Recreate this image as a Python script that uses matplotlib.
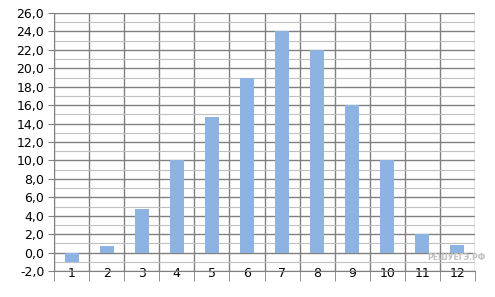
import numpy as np
import matplotlib.pyplot as plt
from matplotlib.ticker import MultipleLocator, FuncFormatter

months = list(range(1, 13))
values = [-1.0, 0.7, 4.7, 10.0, 14.7, 19.0, 24.0, 22.0, 16.0, 10.0, 2.0, 0.8]

fig = plt.figure(figsize=(4.95, 2.97), dpi=100)
ax = fig.add_axes([54 / 495, 1 - 271 / 297, (475 - 54) / 495, (271 - 13) / 297])

x = np.arange(len(months))
ax.bar(x, values, width=0.4, color="#8db3e2", zorder=3)

ax.set_xlim(-0.5, len(months) - 0.5)
ax.set_ylim(-2, 26)

# vertical grid between categories
ax.set_xticks(x)
ax.set_xticklabels([str(m) for m in months])
ax.set_xticks(np.arange(-0.5, len(months)), minor=True)
ax.tick_params(axis="x", which="major", length=0, labelsize=9, pad=-3)
ax.tick_params(axis="x", which="minor", length=7, color="#808080")
ax.grid(True, axis="x", which="minor", color="#808080", linewidth=1, zorder=1)

ax.yaxis.set_major_locator(MultipleLocator(2))
ax.yaxis.set_minor_locator(MultipleLocator(1))
ax.yaxis.set_major_formatter(FuncFormatter(lambda v, p: f"{v:.1f}".replace(".", ",")))
ax.tick_params(axis="y", which="major", length=4, color="#808080", labelsize=9, pad=3)
ax.tick_params(axis="y", which="minor", length=0)
ax.grid(True, axis="y", which="major", color="#808080", linewidth=1, zorder=1)
ax.grid(True, axis="y", which="minor", color="#c0c0c0", linewidth=0.8, zorder=1)
ax.set_axisbelow(True)

for s in ["top", "right"]:
    ax.spines[s].set_visible(False)
for s in ["left", "bottom"]:
    ax.spines[s].set_color("#808080")

fig.text(456 / 495, 1 - 257 / 297, "РЕШУЕГЭ.РФ", fontsize=5.5, color="#c0c0c0",
         ha="center", va="center", fontweight="bold")

fig.savefig("out.png", dpi=100)
